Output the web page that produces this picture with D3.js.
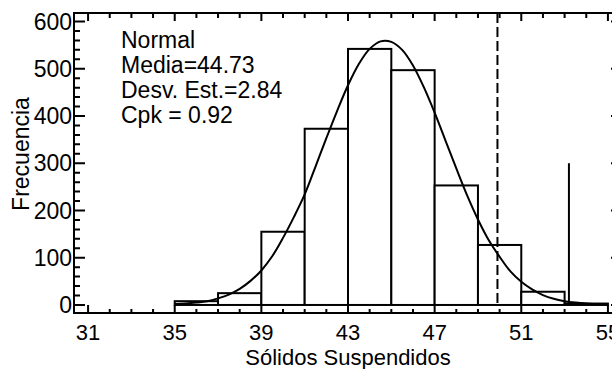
<!DOCTYPE html>
<html>
<head>
<meta charset="utf-8">
<script src="https://cdn.jsdelivr.net/npm/d3@7"></script>
<style>
  html, body { margin: 0; padding: 0; background: #fff; }
  svg { display: block; }
  text { font-family: "Liberation Sans", Arial, sans-serif; fill: #000; }
</style>
</head>
<body>
<div id="chart"></div>
<script>
// histogram bins (left edge) and counts
const binStarts = [31, 33, 35, 37, 39, 41, 43, 45, 47, 49, 51, 53];
const binWidth = 2;
const counts = [0, 0, 8, 25, 155, 373, 542, 497, 253, 127, 28, 3];

// fitted normal curve
const curveX = [35, 35.5, 36, 36.5, 37, 37.5, 38, 38.5, 39, 39.5, 40, 40.5, 41, 41.5, 42, 42.5,
  43, 43.5, 44, 44.5, 45, 45.5, 46, 46.5, 47, 47.5, 48, 48.5, 49, 49.5, 50, 50.5,
  51, 51.5, 52, 52.5, 53, 53.5, 54, 54.5, 55];
const curveY = [2, 3, 5, 8, 14, 22, 34, 51, 73, 103, 142, 186, 234, 293, 353, 411,
  465, 510, 542, 558, 557, 540, 507, 461, 407, 348, 289, 232, 181, 137, 102, 71,
  49, 33, 21, 13, 8, 5, 3, 2, 1];

// limits
const dashedLimit = 49.9;
const spikeX = 53.2;
const spikeY = 300;

const xTicks = [31, 35, 39, 43, 47, 51, 55];
const yTicks = [0, 100, 200, 300, 400, 500, 600];
const statLines = ['Normal', 'Media=44.73', 'Desv. Est.=2.84', 'Cpk = 0.92'];
const xTitle = 'Sólidos Suspendidos';
const yTitle = 'Frecuencia';

const width = 612, height = 369;
const m = { left: 74, right: 622, top: 13, bottom: 313 };

const svg = d3.select('#chart').append('svg')
  .attr('width', width)
  .attr('height', height);

const x = d3.scaleLinear().domain([30.35, 55.65]).range([m.left, m.right]);
const y = d3.scaleLinear().domain([-17, 618]).range([m.bottom, m.top]);

const ink = '#000';
const fs = 23;

// bars
svg.append('g').selectAll('rect')
  .data(binStarts.map((b, i) => ({ b: b, c: counts[i] })))
  .enter()
  .append('rect')
  .attr('x', d => x(d.b))
  .attr('width', d => x(d.b + binWidth) - x(d.b))
  .attr('y', d => y(d.c))
  .attr('height', d => y(0) - y(d.c))
  .attr('fill', '#fff')
  .attr('stroke', ink)
  .attr('stroke-width', 2);

// dashed limit
svg.append('line')
  .attr('x1', x(dashedLimit)).attr('x2', x(dashedLimit))
  .attr('y1', m.top).attr('y2', y(0))
  .attr('stroke', ink)
  .attr('stroke-width', 2)
  .attr('stroke-dasharray', '10,4');

// spike
svg.append('line')
  .attr('x1', x(spikeX)).attr('x2', x(spikeX))
  .attr('y1', y(spikeY)).attr('y2', y(0))
  .attr('stroke', ink)
  .attr('stroke-width', 2);

// normal curve
const line = d3.line()
  .x((d, i) => x(curveX[i]))
  .y(d => y(d))
  .curve(d3.curveCatmullRom);

svg.append('path')
  .datum(curveY)
  .attr('d', line)
  .attr('fill', 'none')
  .attr('stroke', ink)
  .attr('stroke-width', 2);

// frame
svg.append('rect')
  .attr('x', m.left).attr('y', m.top)
  .attr('width', m.right - m.left).attr('height', m.bottom - m.top)
  .attr('fill', 'none')
  .attr('stroke', ink)
  .attr('stroke-width', 2);

// y ticks: major every 100, minor every 20
const yMinor = d3.range(0, 601, 20).filter(v => v % 100 !== 0);
const gy = svg.append('g');
gy.selectAll('.ymaj').data(yTicks).enter().append('path')
  .attr('d', d => `M${m.left},${y(d)}h11M${m.right},${y(d)}h-11`)
  .attr('stroke', ink).attr('stroke-width', 2);
gy.selectAll('.ymin').data(yMinor).enter().append('path')
  .attr('d', d => `M${m.left},${y(d)}h6M${m.right},${y(d)}h-6`)
  .attr('stroke', ink).attr('stroke-width', 2);
gy.selectAll('text').data(yTicks).enter().append('text')
  .attr('x', m.left - 2)
  .attr('y', d => y(d))
  .attr('dy', '0.35em')
  .attr('text-anchor', 'end')
  .style('font-size', fs + 'px')
  .text(d => d);

// x ticks: major every 4, minor every 1
const xMinor = d3.range(31, 56, 1).filter(v => !xTicks.includes(v));
const gx = svg.append('g');
gx.selectAll('.xmaj').data(xTicks).enter().append('path')
  .attr('d', d => `M${x(d)},${m.bottom}v-8M${x(d)},${m.top}v8`)
  .attr('stroke', ink).attr('stroke-width', 2);
gx.selectAll('.xmin').data(xMinor).enter().append('path')
  .attr('d', d => `M${x(d)},${m.bottom}v-4M${x(d)},${m.top}v5`)
  .attr('stroke', ink).attr('stroke-width', 2);
gx.selectAll('text').data(xTicks).enter().append('text')
  .attr('x', d => x(d))
  .attr('y', 340)
  .attr('text-anchor', 'middle')
  .style('font-size', '22px')
  .text(d => d);

// axis titles
svg.append('text')
  .attr('x', 348)
  .attr('y', 365)
  .attr('text-anchor', 'middle')
  .style('font-size', '22px')
  .text(xTitle);

svg.append('text')
  .attr('transform', 'translate(29,154) rotate(-90)')
  .attr('text-anchor', 'middle')
  .style('font-size', fs + 'px')
  .text(yTitle);

// stats block
svg.append('g').selectAll('text')
  .data(statLines)
  .enter()
  .append('text')
  .attr('x', 121)
  .attr('y', (d, i) => 48 + i * 25)
  .style('font-size', fs + 'px')
  .text(d => d);
</script>
</body>
</html>
